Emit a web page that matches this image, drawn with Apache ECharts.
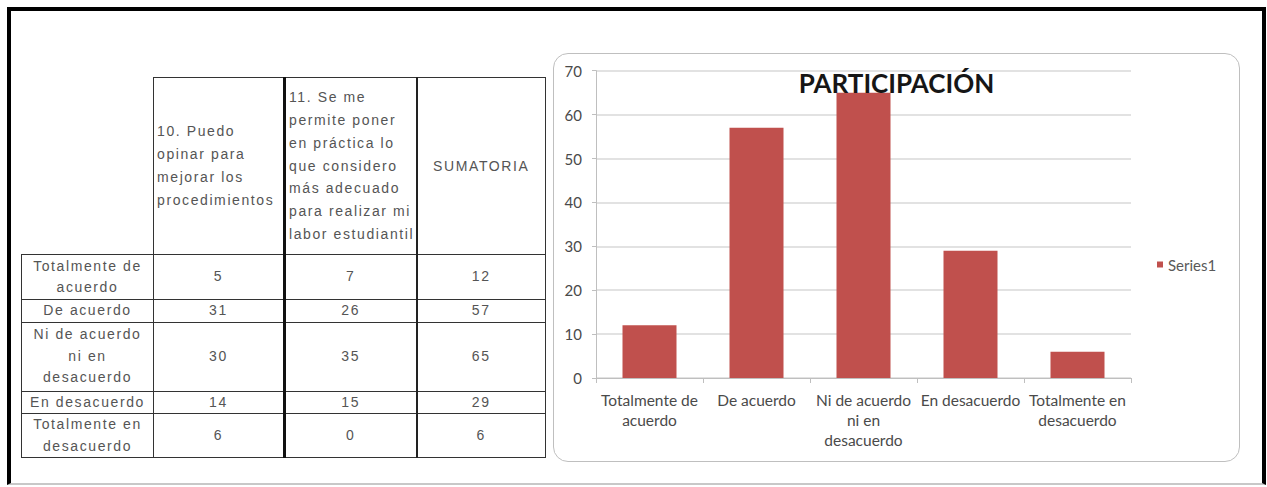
<!DOCTYPE html>
<html>
<head>
<meta charset="utf-8">
<script src="https://cdn.jsdelivr.net/npm/echarts@6/dist/echarts.min.js"></script>
<style>
html,body{margin:0;padding:0;background:#fff;width:1267px;height:487px;overflow:hidden;}
#frame{position:absolute;left:7px;top:7px;width:1259px;height:478px;box-sizing:border-box;border-top:4px solid #000;border-left:4px solid #000;border-right:4px solid #000;border-bottom:2px solid #c8c8c8;}
#tbl{position:absolute;left:21px;top:77px;border-collapse:collapse;table-layout:fixed;font-family:'Liberation Sans',Arial,sans-serif;font-size:14px;letter-spacing:1.6px;color:#555;}
#tbl td{border:1.5px solid #333;padding:0;text-align:center;vertical-align:middle;white-space:pre;overflow:hidden;line-height:21.5px;}
#tbl td.blank{border:none;}
#tbl tr.head td{line-height:22.8px;}
#tbl td.hl{text-align:left;padding-left:3px;}
#tbl td.c2{border-left:3px solid #111;}
#tbl td.c3{border-left:2px solid #222;}
#box{position:absolute;left:553px;top:53px;width:687px;height:409px;box-sizing:border-box;border:1.5px solid #bfbfbf;border-radius:15px;}
#chart{position:absolute;left:553px;top:53px;width:687px;height:409px;}
</style>
</head>
<body>
<div id="frame"></div>
<table id="tbl"></table>
<div id="box"></div>
<div id="chart"></div>
<script>
// ---- data ----
const categories = ["Totalmente de\nacuerdo", "De acuerdo", "Ni de acuerdo\nni en\ndesacuerdo", "En desacuerdo", "Totalmente en\ndesacuerdo"];
const headers = ["10. Puedo\nopinar para\nmejorar los\nprocedimientos", "11. Se me\npermite poner\nen práctica lo\nque considero\nmás adecuado\npara realizar mi\nlabor estudiantil", "SUMATORIA"];
const q10 = [5, 31, 30, 14, 6];
const q11 = [7, 26, 35, 15, 0];
const sumatoria = [12, 57, 65, 29, 6];
const seriesName = "Series1";
const chartTitle = "PARTICIPACIÓN";
const yMin = 0, yMax = 70, yStep = 10;

// ---- table layout (styles) ----
const COL_W = [132, 131, 132, 129];
const HEAD_H = 177;
const ROW_H = [45, 22, 69, 21, 43];

const tbl = document.getElementById('tbl');
const cg = document.createElement('colgroup');
COL_W.forEach(w => { const c = document.createElement('col'); c.style.width = w + 'px'; cg.appendChild(c); });
tbl.appendChild(cg);
tbl.style.width = COL_W.reduce((a, b) => a + b, 0) + 'px';

const hr = document.createElement('tr');
hr.className = 'head';
hr.style.height = HEAD_H + 'px';
const blank = document.createElement('td'); blank.className = 'blank'; hr.appendChild(blank);
headers.forEach((h, i) => {
  const td = document.createElement('td');
  td.textContent = h;
  if (i < 2) td.classList.add('hl');
  if (i === 1) td.classList.add('c2');
  if (i === 2) td.classList.add('c3');
  hr.appendChild(td);
});
tbl.appendChild(hr);

categories.forEach((cat, r) => {
  const tr = document.createElement('tr');
  tr.style.height = ROW_H[r] + 'px';
  const vals = [cat, q10[r], q11[r], sumatoria[r]];
  vals.forEach((v, i) => {
    const td = document.createElement('td');
    td.textContent = String(v);
    if (i === 2) td.classList.add('c2');
    if (i === 3) td.classList.add('c3');
    tr.appendChild(td);
  });
  tbl.appendChild(tr);
});

// ---- chart ----
const chart = echarts.init(document.getElementById('chart'), null, { renderer: 'svg' });
const FONT = 'Lato, "Open Sans", sans-serif';
chart.setOption({
  animation: false,
  title: {
    text: chartTitle, left: 'center', top: 17, padding: 0,
    textStyle: { fontFamily: FONT, fontWeight: 'bold', fontSize: 26, color: '#161616' }
  },
  legend: {
    data: [seriesName], orient: 'vertical', left: 604, top: 204, padding: 0,
    icon: 'rect', itemWidth: 6, itemHeight: 6,
    textStyle: { fontFamily: FONT, fontSize: 15, color: '#595959' }
  },
  grid: { left: 43, right: 109, top: 17.7, bottom: 84, outerBoundsMode: 'none' },
  xAxis: {
    type: 'category', data: categories,
    axisLine: { lineStyle: { color: '#bfbfbf' } },
    axisTick: { show: true, length: 5, lineStyle: { color: '#bfbfbf' } },
    axisLabel: { interval: 0, margin: 12, fontFamily: FONT, fontSize: 15.5, lineHeight: 20, color: '#4a4a4a' }
  },
  yAxis: {
    type: 'value', min: yMin, max: yMax, interval: yStep,
    axisLine: { show: true, lineStyle: { color: '#bfbfbf' } },
    axisTick: { show: true, length: 4, lineStyle: { color: '#bfbfbf' } },
    axisLabel: { margin: 14, fontFamily: FONT, fontSize: 15, color: '#4a4a4a' },
    splitLine: { lineStyle: { color: '#d9d9d9', width: 1.5 } }
  },
  series: [{
    name: seriesName, type: 'bar', data: sumatoria, barWidth: 54,
    itemStyle: { color: '#c0504d' }
  }]
});
</script>
</body>
</html>
